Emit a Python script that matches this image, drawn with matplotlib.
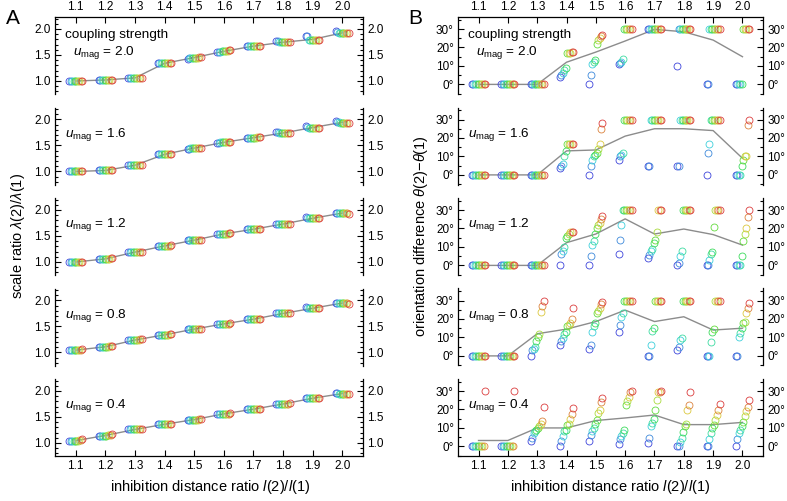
import numpy as np
import matplotlib
matplotlib.use("Agg")
import matplotlib.pyplot as plt
from matplotlib.colors import hsv_to_rgb
from matplotlib.ticker import MultipleLocator, FixedLocator

plt.rcParams['font.family'] = ['Liberation Sans', 'DejaVu Sans']
plt.rcParams['mathtext.fontset'] = 'custom'
plt.rcParams['mathtext.rm'] = 'Liberation Sans'
plt.rcParams['mathtext.it'] = 'Liberation Sans:italic'

# -----------------------------
# data
# -----------------------------
ratios = [1.1, 1.2, 1.3, 1.4, 1.5, 1.6, 1.7, 1.8, 1.9, 2.0]
couplings = ["2.0", "1.6", "1.2", "0.8", "0.4"]

# scale ratio, one row per inhibition ratio, one value per seed (blue -> red)
scale_u20 = [
    [1.00, 1.00, 1.00, 1.00, 1.00, 1.00, 1.00, 1.00, 1.00, 1.00],
    [1.02, 1.02, 1.02, 1.02, 1.02, 1.02, 1.02, 1.02, 1.02, 1.02],
    [1.06, 1.06, 1.06, 1.06, 1.06, 1.06, 1.06, 1.06, 1.06, 1.06],
    [1.34, 1.34, 1.34, 1.34, 1.34, 1.34, 1.34, 1.34, 1.34, 1.34],
    [1.43, 1.44, 1.45, 1.45, 1.45, 1.45, 1.45, 1.45, 1.46, 1.46],
    [1.55, 1.55, 1.56, 1.57, 1.57, 1.57, 1.58, 1.58, 1.59, 1.59],
    [1.67, 1.67, 1.67, 1.67, 1.67, 1.67, 1.67, 1.68, 1.68, 1.68],
    [1.77, 1.76, 1.74, 1.74, 1.74, 1.74, 1.74, 1.74, 1.74, 1.74],
    [1.87, 1.86, 1.79, 1.79, 1.79, 1.79, 1.79, 1.79, 1.79, 1.79],
    [1.96, 1.95, 1.93, 1.92, 1.92, 1.92, 1.92, 1.92, 1.92, 1.92],
]
scale_u16 = [
    [1.00, 1.00, 1.00, 1.00, 1.00, 1.00, 1.00, 1.00, 1.00, 1.00],
    [1.02, 1.02, 1.02, 1.02, 1.02, 1.02, 1.02, 1.03, 1.03, 1.03],
    [1.12, 1.12, 1.12, 1.12, 1.12, 1.12, 1.12, 1.12, 1.13, 1.13],
    [1.33, 1.33, 1.33, 1.33, 1.33, 1.33, 1.33, 1.33, 1.33, 1.33],
    [1.44, 1.44, 1.45, 1.45, 1.45, 1.45, 1.45, 1.45, 1.46, 1.46],
    [1.55, 1.55, 1.56, 1.56, 1.56, 1.56, 1.57, 1.57, 1.57, 1.57],
    [1.65, 1.65, 1.65, 1.65, 1.65, 1.65, 1.65, 1.66, 1.66, 1.66],
    [1.75, 1.75, 1.74, 1.74, 1.74, 1.74, 1.74, 1.74, 1.74, 1.74],
    [1.87, 1.86, 1.84, 1.84, 1.84, 1.84, 1.84, 1.84, 1.84, 1.84],
    [1.97, 1.96, 1.95, 1.94, 1.94, 1.94, 1.94, 1.94, 1.94, 1.94],
]
scale_u12 = [
    [1.00, 1.00, 1.00, 1.00, 1.00, 1.00, 1.00, 1.00, 1.00, 1.00],
    [1.06, 1.06, 1.06, 1.06, 1.06, 1.06, 1.06, 1.06, 1.07, 1.07],
    [1.19, 1.19, 1.19, 1.19, 1.19, 1.19, 1.19, 1.19, 1.19, 1.19],
    [1.31, 1.31, 1.31, 1.31, 1.31, 1.31, 1.31, 1.31, 1.31, 1.32],
    [1.42, 1.42, 1.42, 1.42, 1.42, 1.42, 1.42, 1.43, 1.43, 1.43],
    [1.53, 1.53, 1.54, 1.54, 1.54, 1.54, 1.54, 1.54, 1.55, 1.55],
    [1.63, 1.63, 1.63, 1.63, 1.63, 1.63, 1.63, 1.63, 1.64, 1.64],
    [1.73, 1.73, 1.73, 1.73, 1.73, 1.73, 1.73, 1.73, 1.73, 1.73],
    [1.86, 1.85, 1.84, 1.84, 1.84, 1.84, 1.84, 1.84, 1.84, 1.84],
    [1.95, 1.95, 1.94, 1.94, 1.94, 1.94, 1.94, 1.94, 1.94, 1.93],
]
scale_u08 = [
    [1.04, 1.04, 1.04, 1.04, 1.04, 1.04, 1.04, 1.05, 1.05, 1.06],
    [1.11, 1.11, 1.11, 1.11, 1.11, 1.11, 1.11, 1.12, 1.12, 1.12],
    [1.24, 1.24, 1.24, 1.24, 1.24, 1.24, 1.24, 1.24, 1.25, 1.25],
    [1.34, 1.34, 1.34, 1.34, 1.34, 1.34, 1.34, 1.34, 1.35, 1.35],
    [1.45, 1.45, 1.45, 1.45, 1.45, 1.45, 1.45, 1.45, 1.45, 1.45],
    [1.55, 1.55, 1.55, 1.55, 1.55, 1.55, 1.55, 1.55, 1.55, 1.56],
    [1.64, 1.64, 1.64, 1.64, 1.64, 1.64, 1.64, 1.64, 1.64, 1.64],
    [1.76, 1.76, 1.75, 1.75, 1.75, 1.75, 1.75, 1.75, 1.75, 1.75],
    [1.87, 1.86, 1.85, 1.85, 1.85, 1.85, 1.85, 1.85, 1.85, 1.85],
    [1.96, 1.95, 1.95, 1.95, 1.95, 1.95, 1.95, 1.95, 1.95, 1.94],
]
scale_u04 = [
    [1.04, 1.04, 1.04, 1.04, 1.04, 1.04, 1.04, 1.05, 1.06, 1.08],
    [1.14, 1.14, 1.14, 1.14, 1.14, 1.14, 1.15, 1.15, 1.16, 1.17],
    [1.26, 1.26, 1.26, 1.26, 1.26, 1.26, 1.26, 1.26, 1.26, 1.26],
    [1.36, 1.36, 1.36, 1.36, 1.36, 1.36, 1.36, 1.36, 1.36, 1.36],
    [1.45, 1.45, 1.45, 1.45, 1.45, 1.45, 1.45, 1.45, 1.46, 1.46],
    [1.56, 1.56, 1.56, 1.56, 1.56, 1.56, 1.56, 1.56, 1.56, 1.57],
    [1.65, 1.65, 1.65, 1.65, 1.65, 1.65, 1.65, 1.65, 1.65, 1.65],
    [1.75, 1.75, 1.75, 1.75, 1.75, 1.75, 1.75, 1.75, 1.75, 1.76],
    [1.86, 1.86, 1.86, 1.86, 1.86, 1.86, 1.86, 1.86, 1.86, 1.86],
    [1.96, 1.96, 1.95, 1.95, 1.95, 1.95, 1.95, 1.95, 1.95, 1.95],
]

# orientation difference in degrees, same layout
orient_u20 = [
    [0, 0, 0, 0, 0, 0, 0, 0, 0, 0],
    [0, 0, 0, 0, 0, 0, 0, 0, 0, 0],
    [0, 0, 0, 0, 0, 0, 0, 0, 0, 0],
    [4, 5, 6, 8, 9, 17, 17, 17, 17.5, 17.5],
    [0, 5, 11, 12, 13, 22, 24, 25, 26, 27],
    [11, 11.5, 12, 14, 30, 30, 30, 30, 30, 30],
    [30, 30, 30, 30, 30, 30, 30, 30, 30, 30],
    [10, 30, 30, 30, 30, 30, 30, 30, 30, 30],
    [0, 0, 30, 30, 30, 30, 30, 30, 30, 30],
    [0, 0, 0, 0, 0, 30, 30, 30, 30, 30],
]
orient_u16 = [
    [0, 0, 0, 0, 0, 0, 0, 0, 0, 0],
    [0, 0, 0, 0, 0, 0, 0, 0, 0, 0],
    [0, 0, 0, 0, 0, 0, 0, 0, 0, 0],
    [4, 5, 6, 10, 13, 17, 17, 17, 17, 17],
    [0, 5, 8, 10, 11, 12, 14, 17, 25, 28],
    [8, 10, 11, 12, 30, 30, 30, 30, 30, 30],
    [5, 5, 30, 30, 30, 30, 30, 30, 30, 30],
    [5, 5, 30, 30, 30, 30, 30, 30, 30, 30],
    [0, 12, 17, 30, 30, 30, 30, 30, 30, 30],
    [0, 0, 0, 0, 5, 8, 10, 10, 27, 30],
]
orient_u12 = [
    [0, 0, 0, 0, 0, 0, 0, 0, 0, 0],
    [0, 0, 0, 0, 0, 0, 0, 0, 0, 0],
    [0, 0, 0, 0, 0, 0, 0, 0, 0, 0],
    [0, 6, 8, 10, 15, 16, 17, 18, 18, 18],
    [0, 5, 11, 13, 17, 20, 22, 23, 25, 27],
    [6, 14, 22, 30, 30, 30, 30, 30, 30, 30],
    [4, 5.5, 8, 9, 12, 14, 18, 30, 30, 30],
    [0, 1.5, 5, 8, 30, 30, 30, 30, 30, 30],
    [0, 0, 3, 6, 7.5, 21, 30, 30, 30, 30],
    [0, 0, 0, 0, 5, 13, 17, 20, 26, 30],
]
orient_u08 = [
    [0, 0, 0, 0, 0, 0, 0, 0, 0, 0],
    [0, 0, 0, 0, 0, 0, 0, 0, 0, 0],
    [0, 3, 4, 5, 8, 10, 12, 24, 27, 29.8],
    [6, 8, 9.5, 12, 13, 16, 17, 18, 20, 25.7],
    [4, 6, 13, 16, 18, 23, 24.5, 26, 28, 29],
    [13, 17, 21, 23, 29.5, 30, 30, 30, 30, 30],
    [0, 0, 6, 13.6, 15, 30, 30, 30, 30, 30],
    [3, 5, 8.75, 9.6, 30, 30, 30, 30, 30, 30],
    [0, 0, 0, 7.5, 12.7, 14.5, 30, 30, 30, 30],
    [0, 0, 10.5, 12.3, 15, 17.7, 18.6, 23, 26, 28.4],
]
orient_u04 = [
    [0, 0, 0, 0, 0, 0, 0, 0, 0, 30],
    [0, 0, 0, 0, 0, 0, 0, 0, 0, 30],
    [3, 4.6, 7, 8.2, 9, 10, 11, 12.3, 14, 21.3],
    [0, 2.9, 5.5, 8.2, 9, 11.8, 12, 15, 17.5, 21],
    [2.9, 6, 8.2, 10, 12, 14.5, 18, 19.8, 24.3, 26],
    [1.4, 3.75, 5.5, 7, 9.1, 22.5, 24.8, 27, 29.6, 30],
    [2, 4.6, 10.9, 12.7, 15, 19.8, 25, 29.6, 29.6, 30],
    [0, 0, 2.3, 4.6, 8, 10.9, 12, 19.8, 22.5, 29.6],
    [0, 0, 4.1, 7.3, 10, 11.8, 14.5, 17, 19.8, 23],
    [0, 4.1, 7.3, 9, 10.9, 13, 16.3, 19, 21.3, 25],
]

# gray summary lines
scale_line_u20 = [1.00, 1.02, 1.06, 1.34, 1.45, 1.57, 1.67, 1.745, 1.80, 1.925]
scale_line_u16 = [1.00, 1.02, 1.12, 1.33, 1.45, 1.56, 1.65, 1.74, 1.845, 1.945]
scale_line_u12 = [1.00, 1.06, 1.19, 1.31, 1.42, 1.54, 1.63, 1.73, 1.84, 1.94]
scale_line_u08 = [1.045, 1.11, 1.24, 1.34, 1.45, 1.55, 1.64, 1.75, 1.85, 1.95]
scale_line_u04 = [1.045, 1.145, 1.26, 1.36, 1.45, 1.56, 1.65, 1.75, 1.86, 1.95]

orient_line_u20 = [0, 0, 0, 12, 17.5, 23.5, 29.8, 28.5, 24, 15]
orient_line_u16 = [0, 0, 0, 13, 13.5, 21, 25, 25, 24, 9]
orient_line_u12 = [0, 0, 0, 12.3, 17, 25.2, 17, 19.7, 16.7, 11]
orient_line_u08 = [0, 0, 12, 14.5, 18.6, 24.8, 18.6, 21.2, 14, 15]
orient_line_u04 = [3.2, 3.2, 10, 10, 14, 15.4, 17, 11.8, 11.8, 13]

scale_data = [scale_u20, scale_u16, scale_u12, scale_u08, scale_u04]
orient_data = [orient_u20, orient_u16, orient_u12, orient_u08, orient_u04]
scale_lines = [scale_line_u20, scale_line_u16, scale_line_u12, scale_line_u08, scale_line_u04]
orient_lines = [orient_line_u20, orient_line_u16, orient_line_u12, orient_line_u08, orient_line_u04]

# -----------------------------
# layout (pixel based)
# -----------------------------
W, H = 787, 501
fig = plt.figure(figsize=(W / 100, H / 100), dpi=100)

n_seeds = 10
seed_colors = [hsv_to_rgb((0.66 * (1 - k / (n_seeds - 1)), 0.72, 0.86)) for k in range(n_seeds)]
seed_shift = [(k - (n_seeds - 1) / 2) * 0.005 for k in range(n_seeds)]


def add_px_axes(x0, x1, top, h):
    return fig.add_axes([x0 / W, 1 - (top + h) / H, (x1 - x0) / W, h / H])


def style_panel(ax, row, ylim, major, minor, fmt):
    ax.set_xlim(1.03, 2.07)
    ax.set_ylim(*ylim)
    ax.yaxis.set_major_locator(FixedLocator(major))
    ax.yaxis.set_minor_locator(MultipleLocator(minor))
    ax.set_yticklabels([fmt(v) for v in major])
    ax.tick_params(axis='y', which='both', direction='in', left=True, right=True,
                   labelleft=True, labelright=True, labelsize=8.5, width=0.8, pad=3)
    ax.tick_params(axis='y', which='major', length=4)
    ax.tick_params(axis='y', which='minor', length=2)
    for s in ax.spines.values():
        s.set_linewidth(0.9)
    ax.xaxis.set_major_locator(FixedLocator(ratios))
    ax.set_xticklabels([f"{r:.1f}" for r in ratios])
    ax.spines['top'].set_visible(row == 0)
    ax.spines['bottom'].set_visible(row == 4)
    ax.tick_params(axis='x', direction='in', length=4, width=0.8, labelsize=8.5, pad=3,
                   top=(row == 0), labeltop=(row == 0),
                   bottom=(row == 4), labelbottom=(row == 4))


def draw_points(ax, data, line):
    ax.plot(ratios, line, color='#8c8c8c', lw=1.0, zorder=1)
    for k in range(n_seeds):
        xs = [r + seed_shift[k] for r in ratios]
        ys = [grp[k] for grp in data]
        ax.plot(xs, ys, ls='none', marker='o', ms=5.0, mfc='none',
                mec=seed_colors[k], mew=0.6, zorder=2)


for row in range(5):
    top = 17 + row * 90.5
    axA = add_px_axes(55, 363, top, 77)
    axB = add_px_axes(458, 763, top, 77)
    draw_points(axA, scale_data[row], scale_lines[row])
    draw_points(axB, orient_data[row], orient_lines[row])
    style_panel(axA, row, (0.75, 2.23), [1.0, 1.5, 2.0], 0.1, lambda v: f"{v:.1f}")
    style_panel(axB, row, (-5.2, 36.5), [0, 10, 20, 30], 5, lambda v: f"{v:d}°")
    for ax in (axA, axB):
        if row == 0:
            ax.text(0.032, 0.765, "coupling strength", transform=ax.transAxes,
                    fontsize=9.7, va='center', ha='left')
            ax.text(0.058, 0.545, r"$u_{\mathrm{mag}}$ = " + couplings[row],
                    transform=ax.transAxes, fontsize=9.7, va='center', ha='left')
        else:
            ax.text(0.032, 0.655, r"$u_{\mathrm{mag}}$ = " + couplings[row],
                    transform=ax.transAxes, fontsize=9.7, va='center', ha='left')

fig.text(13 / W, 1 - 19 / H, "A", fontsize=15, ha='center', va='center')
fig.text(415 / W, 1 - 19 / H, "B", fontsize=15, ha='center', va='center')
fig.text(18 / W, 1 - 236 / H, r"scale ratio $\lambda(2)/\lambda(1)$", rotation=90,
         fontsize=10.5, ha='center', va='center')
fig.text(421 / W, 1 - 236 / H, r"orientation difference $\theta(2)\mathrm{-}\theta(1)$",
         rotation=90, fontsize=10.5, ha='center', va='center')
fig.text(210 / W, 1 - 487 / H, r"inhibition distance ratio $l(2)/l(1)$",
         fontsize=10.5, ha='center', va='center')
fig.text(610 / W, 1 - 487 / H, r"inhibition distance ratio $l(2)/l(1)$",
         fontsize=10.5, ha='center', va='center')

fig.savefig("out.png", dpi=100)
